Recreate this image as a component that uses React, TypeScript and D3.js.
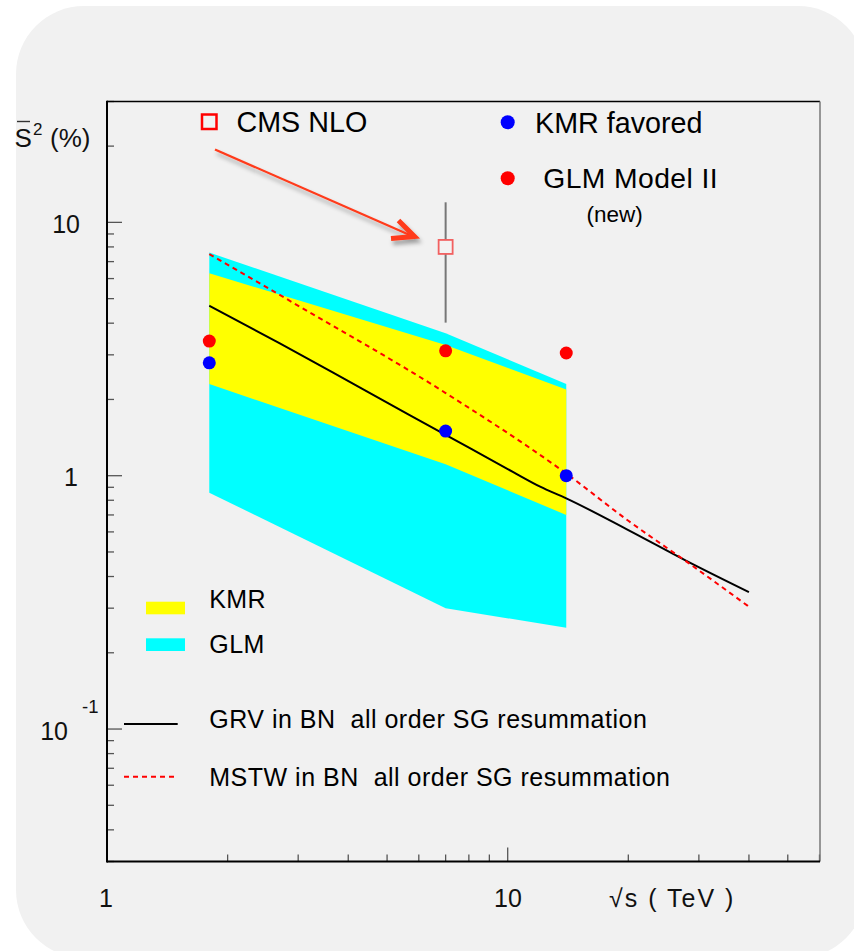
import React from 'react';
import * as d3 from 'd3';

// Collider energies (TeV) where the model bands are evaluated
const energies = [1.8, 7, 14];
// GLM band (cyan), gap survival probability in %
const glmUpper = [7.6, 3.65, 2.3];
const glmLower = [0.857, 0.3, 0.251];
// KMR band (yellow)
const kmrUpper = [6.3, 3.28, 2.19];
const kmrLower = [2.3, 1.11, 0.7];
// Point predictions
const kmrFavored = [2.79, 1.5, 1.0];
const glmModelII = [3.4, 3.11, 3.05];
// BN model curves
const grvEnergy = [1.8, 2.7, 4.36, 7, 10.3, 12.05, 14, 20, 28, 40];
const grvS2 = [4.69, 3.33, 2.19, 1.45, 1.035, 0.905, 0.814, 0.61, 0.46, 0.347];
const mstwEnergy = [1.8, 2.86, 7, 14, 20, 28, 40];
const mstwS2 = [7.5, 4.9, 2.12, 1.02, 0.664, 0.457, 0.304];
// CMS NLO measurement with its error bar
const cmsEnergy = [7];
const cmsValue = [8.0];
const cmsLow = [4.02];
const cmsHigh = [12.0];
// Axis ticks
const xTicks = [1, 2, 3, 4, 5, 6, 7, 8, 9, 10, 20, 30, 40, 50, 60];
const xMajor = [1, 10];
const yTicks = [0.03, 0.04, 0.05, 0.06, 0.07, 0.08, 0.09, 0.1, 0.2, 0.3, 0.4, 0.5, 0.6, 0.7, 0.8, 0.9, 1, 2, 3, 4, 5, 6, 7, 8, 9, 10, 20, 30];
const yMajor = [0.1, 1, 10];

const FONT = '"Liberation Sans", Arial, Helvetica, sans-serif';

export default function App() {
  const x = d3.scaleLog().domain([1, 60]).range([107, 819.5]);
  const y = d3.scaleLog().domain([0.03, 30]).range([861.5, 101.5]);

  const idx = energies.map((_, i) => i);
  const band = (lo: number[], hi: number[]) =>
    d3
      .area<number>()
      .x((i) => x(energies[i]))
      .y0((i) => y(lo[i]))
      .y1((i) => y(hi[i]))(idx) as string;

  const curve = (xs: number[], ys: number[]) =>
    d3
      .line<number>()
      .x((i) => x(xs[i]))
      .y((i) => y(ys[i]))
      .curve(d3.curveMonotoneX)(xs.map((_, i) => i)) as string;

  const left = 107;
  const right = 820;
  const top = 101.5;
  const bottom = 861.5;

  return (
    <svg
      width={854}
      height={951}
      style={{ position: 'absolute', left: 0, top: 0, display: 'block', background: '#ffffff' }}
      fontFamily={FONT}
    >
      <defs>
        <filter id="arrowShadow" x="-20%" y="-20%" width="140%" height="160%">
          <feDropShadow dx="2" dy="4" stdDeviation="2" floodColor="#000" floodOpacity="0.35" />
        </filter>
      </defs>
      <rect x={16} y={6} width={850} height={952} rx={68} ry={68} fill="#f1f1f1" />

      {/* model bands */}
      <path d={band(glmLower, glmUpper)} fill="#00ffff" />
      <path d={band(kmrLower, kmrUpper)} fill="#ffff00" />

      {/* BN curves */}
      <path d={curve(grvEnergy, grvS2)} fill="none" stroke="#000" strokeWidth={2} />
      <path d={curve(mstwEnergy, mstwS2)} fill="none" stroke="#ff0000" strokeWidth={2} strokeDasharray="5 4" />

      {/* point predictions */}
      {energies.map((e, i) => (
        <circle key={'g' + i} cx={x(e)} cy={y(glmModelII[i])} r={6.5} fill="#ff0000" />
      ))}
      {energies.map((e, i) => (
        <circle key={'k' + i} cx={x(e)} cy={y(kmrFavored[i])} r={6.5} fill="#0000ff" />
      ))}

      {/* CMS measurement */}
      {cmsEnergy.map((e, i) => (
        <g key={'c' + i}>
          <line x1={x(e)} x2={x(e)} y1={y(cmsHigh[i])} y2={y(cmsLow[i])} stroke="#777" strokeWidth={2} />
          <rect x={x(e) - 7} y={y(cmsValue[i]) - 7} width={14} height={14} fill="#f3f3f3" stroke="#f26060" strokeWidth={1.8} />
        </g>
      ))}

      {/* pointer arrow */}
      <g filter="url(#arrowShadow)" stroke="#ff3a1a" fill="none">
        <line x1={215} y1={149.5} x2={412} y2={236} strokeWidth={2.2} />
        <path d="M398.5,220.5 L414.5,236.5 L391,238.5" strokeWidth={5} strokeLinejoin="miter" strokeLinecap="butt" />
      </g>

      {/* ticks */}
      {xTicks.map((t) => {
        const major = xMajor.includes(t);
        return (
          <line key={'xt' + t} x1={x(t)} x2={x(t)} y1={bottom} y2={bottom - (major ? 14 : 7)} stroke="#555" strokeWidth={1.3} />
        );
      })}
      {yTicks.map((t) => {
        const major = yMajor.includes(t);
        return (
          <line key={'yt' + t} x1={left} x2={left + (major ? 15 : 7)} y1={y(t)} y2={y(t)} stroke="#555" strokeWidth={1.3} />
        );
      })}

      {/* frame */}
      <line x1={left} x2={right} y1={top} y2={top} stroke="#000" strokeWidth={1.5} />
      <line x1={right} x2={right} y1={top} y2={bottom} stroke="#777" strokeWidth={1.5} />
      <line x1={left} x2={left} y1={top - 0.75} y2={bottom + 1} stroke="#000" strokeWidth={2} />
      <line x1={left} x2={right} y1={bottom} y2={bottom} stroke="#000" strokeWidth={2} />

      {/* y tick labels */}
      <text x={80} y={232.7} fontSize={25} textAnchor="end" fill="#111">10</text>
      <text x={78} y={486} fontSize={25} textAnchor="end" fill="#111">1</text>
      <text x={68} y={740} fontSize={25} textAnchor="end" fill="#111">10</text>
      <text x={82} y={713.3} fontSize={18.5} fill="#111">-1</text>

      {/* x tick labels */}
      <text x={106} y={907} fontSize={25} textAnchor="middle" fill="#111">1</text>
      <text x={508} y={907} fontSize={25} textAnchor="middle" fill="#111">10</text>
      <text x={609} y={907} fontSize={25} fill="#111" letterSpacing={2} style={{ whiteSpace: 'pre' }}>√s ( TeV )</text>

      {/* y axis title */}
      <line x1={17} x2={30} y1={121.5} y2={121.5} stroke="#333" strokeWidth={1.4} />
      <text x={14.5} y={146.5} fontSize={26} fill="#111">S</text>
      <text x={33} y={135} fontSize={17} fill="#111">2</text>
      <text x={50} y={146.5} fontSize={26} fill="#111">(%)</text>

      {/* top legend */}
      <rect x={202} y={114.5} width={14.5} height={14.5} fill="none" stroke="#ff0000" strokeWidth={2.5} />
      <text x={236.5} y={132} fontSize={28.7} fill="#000">CMS NLO</text>
      <circle cx={507.7} cy={122.3} r={7} fill="#0000ff" />
      <text x={535} y={132.5} fontSize={28.7} fill="#000">KMR favored</text>
      <circle cx={507.7} cy={178.3} r={7} fill="#ff0000" />
      <text x={543.3} y={188.3} fontSize={28.3} fill="#000" letterSpacing={0.4}>GLM Model II</text>
      <text x={586.5} y={221.7} fontSize={22.5} fill="#000">(new)</text>

      {/* bottom legend */}
      <rect x={146} y={601.7} width={39} height={12.6} fill="#ffff00" />
      <text x={209.3} y={608.3} fontSize={25} fill="#000" letterSpacing={0.4}>KMR</text>
      <rect x={146} y={638.3} width={39} height={12.7} fill="#00ffff" />
      <text x={209.3} y={652.7} fontSize={25} fill="#000" letterSpacing={0.4}>GLM</text>
      <line x1={124} x2={177.7} y1={724} y2={724} stroke="#000" strokeWidth={2} />
      <text x={209.3} y={728.3} fontSize={25} fill="#000" letterSpacing={0.5} style={{ whiteSpace: 'pre' }}>GRV in BN  all order SG resummation</text>
      <line x1={124} x2={177.7} y1={776.7} y2={776.7} stroke="#ff0000" strokeWidth={2} strokeDasharray="5 4" />
      <text x={209.3} y={785.5} fontSize={25} fill="#000" letterSpacing={0.5} style={{ whiteSpace: 'pre' }}>MSTW in BN  all order SG resummation</text>
    </svg>
  );
}
